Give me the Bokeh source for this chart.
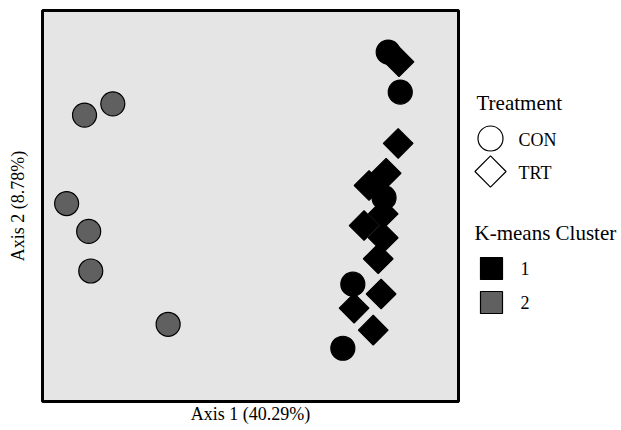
import numpy as np
import pandas as pd
from bokeh.plotting import figure
from bokeh.layouts import row
from bokeh.models import Range1d, FixedTicker
from bokeh.core.properties import value
from bokeh.embed import file_html
from bokeh.resources import INLINE

# ---- data ----
axis1 = [-0.399, -0.331, -0.442, -0.389, -0.384, -0.198,
         0.331, 0.360, 0.321, 0.246, 0.222,
         0.357, 0.355, 0.326, 0.285, 0.319, 0.273, 0.319, 0.307, 0.314, 0.249, 0.295]
axis2 = [0.186, 0.209, 0.005, -0.052, -0.133, -0.242,
         0.315, 0.233, 0.017, -0.160, -0.291,
         0.295, 0.128, 0.067, 0.042, -0.016, -0.040, -0.065, -0.108, -0.180, -0.209, -0.254]
treatment = ["CON"] * 11 + ["TRT"] * 11
cluster = ["2"] * 6 + ["1"] * 5 + ["1"] * 11

treat_levels = ["CON", "TRT"]
cluster_levels = ["1", "2"]
x_label = "Axis 1 (40.29%)"
y_label = "Axis 2 (8.78%)"

FONT = "Liberation Serif"
cluster_colors = {"1": "#000000", "2": "#606060"}
treat_marker = {"CON": ("circle", 24, 0.0), "TRT": ("square", 21, np.pi / 4)}

df = pd.DataFrame(dict(x=axis1, y=axis2, treatment=treatment, cluster=cluster))

TOP, BOTTOM = 10, 29
p = figure(width=462, height=430, output_backend="svg", toolbar_location=None,
           x_range=Range1d(-0.5, 0.5), y_range=Range1d(-0.4, 0.4),
           min_border_left=42, min_border_right=4, min_border_top=TOP, min_border_bottom=BOTTOM)
p.background_fill_color = "#e5e5e5"
p.border_fill_color = "white"
p.outline_line_color = "black"
p.outline_line_width = 3
p.grid.visible = False

for ax, lab in ((p.xaxis[0], x_label), (p.yaxis[0], y_label)):
    ax.ticker = FixedTicker(ticks=[])
    ax.axis_line_color = None
    ax.major_tick_line_color = None
    ax.minor_tick_line_color = None
    ax.axis_label = lab
    ax.axis_label_text_font = FONT
    ax.axis_label_text_font_style = "normal"
    ax.axis_label_text_font_size = "18px"
    ax.axis_label_text_color = "black"
p.xaxis[0].axis_label_standoff = 2
p.yaxis[0].axis_label_standoff = 15

for cl in ["2", "1"]:
    for tr in treat_levels:
        sub = df[(df.cluster == cl) & (df.treatment == tr)]
        if len(sub) == 0:
            continue
        mk, sz, ang = treat_marker[tr]
        p.scatter(sub.x, sub.y, marker=mk, size=sz, angle=ang,
                  fill_color=cluster_colors[cl], line_color="black", line_width=1.2)

# ---- legend panel (coordinates = page pixels) ----
lg = figure(width=159, height=430, output_backend="svg", toolbar_location=None,
            x_range=Range1d(0, 159), y_range=Range1d(430 - BOTTOM, TOP),
            min_border_left=0, min_border_right=0, min_border_top=TOP, min_border_bottom=BOTTOM,
            x_axis_type=None, y_axis_type=None)
lg.outline_line_color = None
lg.grid.visible = False
lg.background_fill_color = "white"
lg.border_fill_color = "white"

lg.text(x=[14], y=[102], text=["Treatment"], text_font=value(FONT), text_font_size="21px",
        text_baseline="middle", text_color="black")
for i, tr in enumerate(treat_levels):
    mk, sz, ang = treat_marker[tr]
    yy = 138 + i * 33
    lg.scatter([28], [yy], marker=mk, size=sz + 1, angle=ang,
               fill_color="white", line_color="black", line_width=1.2)
    lg.text(x=[56], y=[yy + 1], text=[tr], text_font=value(FONT), text_font_size="18px",
            text_baseline="middle", text_color="black")

lg.text(x=[12], y=[232], text=["K-means Cluster"], text_font=value(FONT), text_font_size="21px",
        text_baseline="middle", text_color="black")
for i, cl in enumerate(cluster_levels):
    yy = 268 + i * 34
    lg.scatter([29], [yy], marker="square", size=22,
               fill_color=cluster_colors[cl], line_color="black", line_width=1.2)
    lg.text(x=[58], y=[yy], text=[cl], text_font=value(FONT), text_font_size="18px",
            text_baseline="middle", text_color="black")

layout = row(p, lg, spacing=0)
open("out.html", "w").write(file_html(layout, INLINE))
